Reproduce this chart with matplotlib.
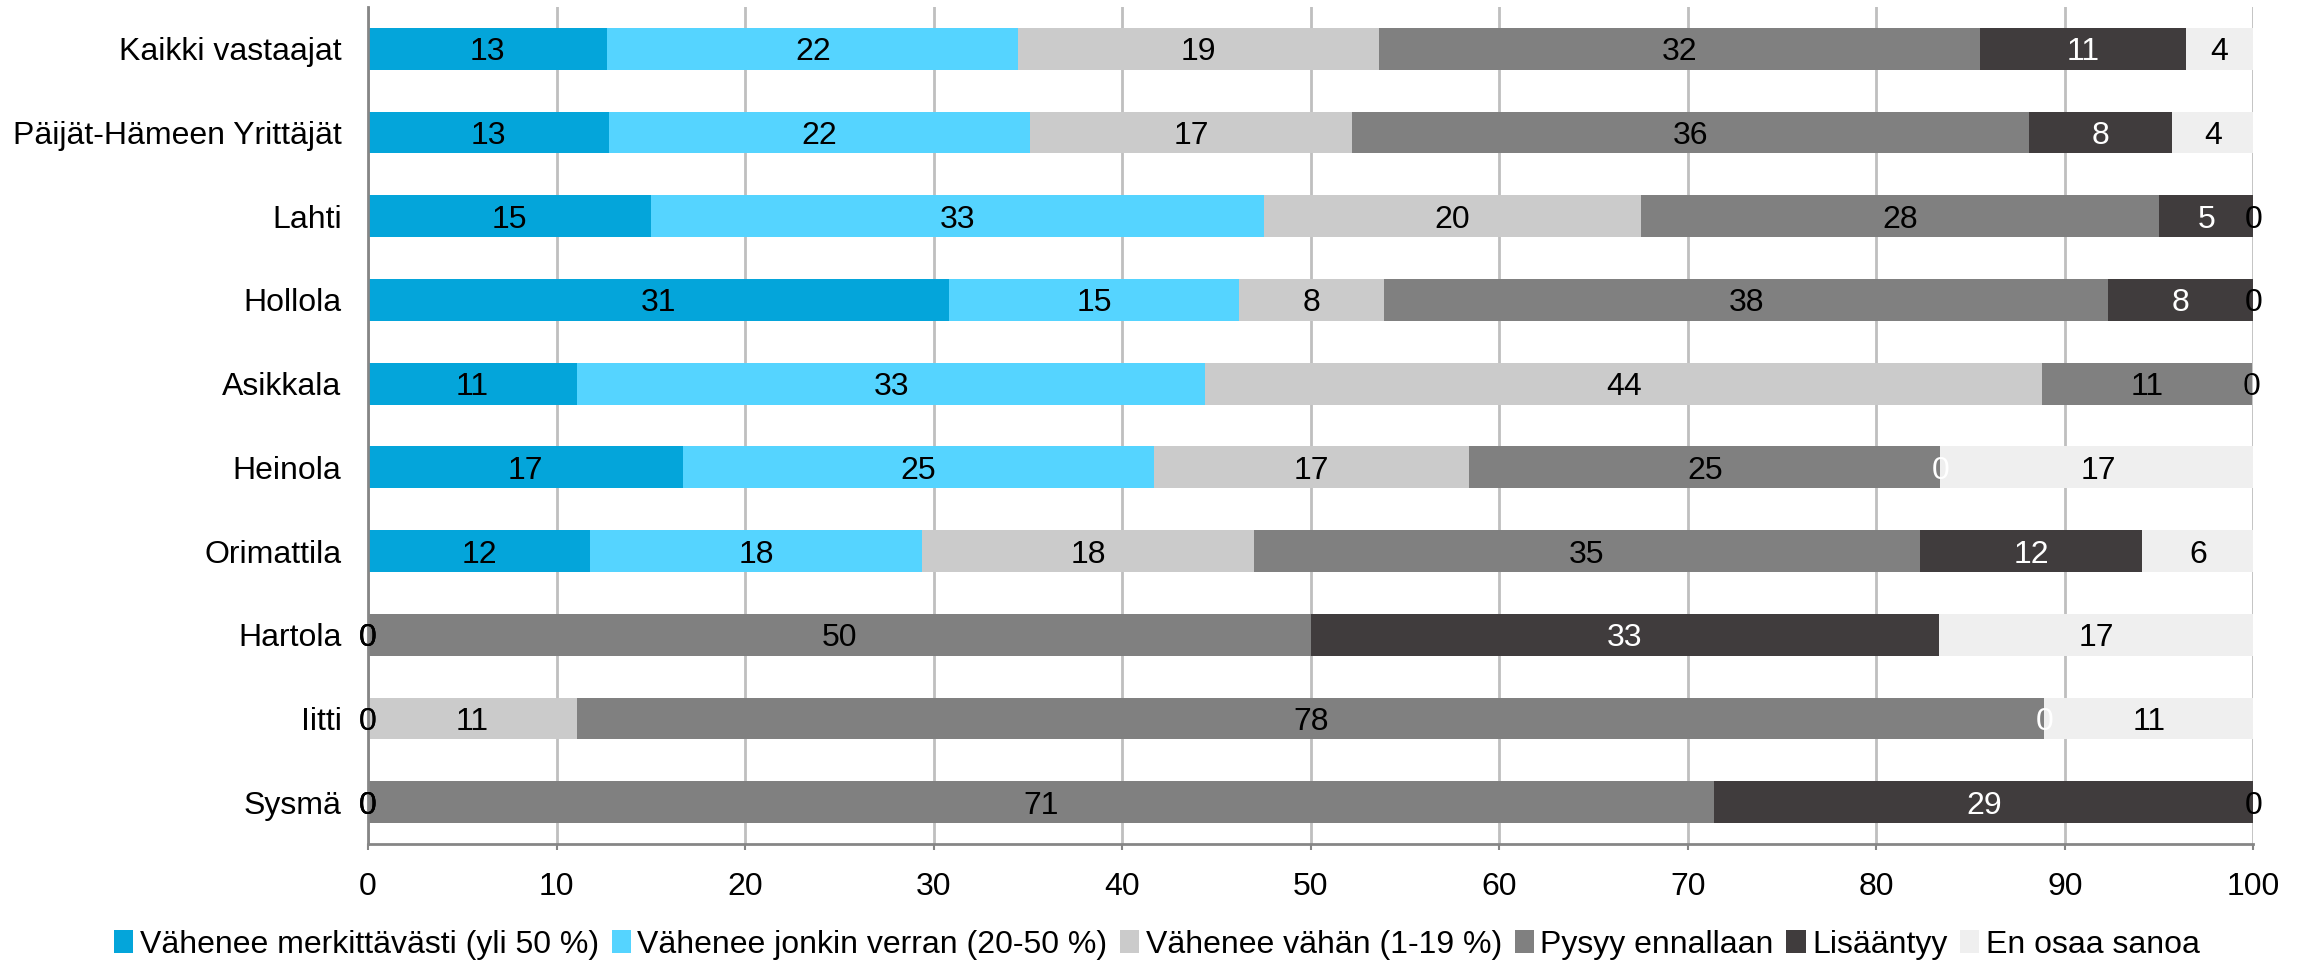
import matplotlib.pyplot as plt
import numpy as np

plt.rcParams['font.family'] = ['Liberation Sans', 'DejaVu Sans']

categories = ['Kaikki vastaajat', 'Päijät-Hämeen Yrittäjät', 'Lahti', 'Hollola',
              'Asikkala', 'Heinola', 'Orimattila', 'Hartola', 'Iitti', 'Sysmä']

series_names = ['Vähenee merkittävästi (yli 50 %)', 'Vähenee jonkin verran (20-50 %)',
                'Vähenee vähän (1-19 %)', 'Pysyy ennallaan', 'Lisääntyy', 'En osaa sanoa']

vahenee_paljon = [12.7, 12.8, 15.0, 30.8, 11.1, 16.7, 11.8, 0.0, 0.0, 0.0]
vahenee_jonkin = [21.8, 22.3, 32.5, 15.4, 33.3, 25.0, 17.6, 0.0, 0.0, 0.0]
vahenee_vahan = [19.1, 17.1, 20.0, 7.7, 44.4, 16.7, 17.6, 0.0, 11.1, 0.0]
pysyy = [31.9, 35.9, 27.5, 38.4, 11.1, 25.0, 35.3, 50.0, 77.8, 71.4]
lisaantyy = [10.9, 7.6, 5.0, 7.7, 0.0, 0.0, 11.8, 33.3, 0.0, 28.6]
en_osaa = [3.6, 4.3, 0.0, 0.0, 0.0, 16.7, 5.9, 16.7, 11.1, 0.0]

colors = ['#04A5DA', '#55D4FF', '#CBCBCB', '#808080', '#403C3D', '#EFEFEF']
text_colors = ['black', 'black', 'black', 'black', 'white', 'black']

data = [vahenee_paljon, vahenee_jonkin, vahenee_vahan, pysyy, lisaantyy, en_osaa]

fig = plt.figure(figsize=(23.07, 9.66), dpi=100)
ax = fig.add_axes([0.1595, 0.1263, 0.9768 - 0.1595, 0.9928 - 0.1263])

y = np.arange(len(categories))
left = np.zeros(len(categories))
fs = 23
for vals, name, c, tc in zip(data, series_names, colors, text_colors):
    vals = np.array(vals)
    ax.barh(y, vals, left=left, height=0.5, color=c, label=name, zorder=2)
    for yi, l, v in zip(y, left, vals):
        # Excel style rounding (half up)
        ax.text(l + v / 2, yi, str(int(np.floor(v + 0.5))), ha='center',
                va='center_baseline', color=tc, fontsize=fs, zorder=3)
    left = left + vals

ax.set_xlim(0, 100)
ax.set_ylim(len(categories) - 0.5, -0.5)
ax.set_yticks(y)
ax.set_yticklabels(categories, fontsize=fs)
ax.set_xticks(np.arange(0, 101, 10))
ax.tick_params(axis='x', labelsize=fs, length=4, width=1.5, color='#868686', pad=16)
ax.tick_params(axis='y', length=0, pad=19)
ax.xaxis.grid(True, color='#BFBFBF', linewidth=2, zorder=0)
ax.set_axisbelow(True)
for s in ['top', 'right']:
    ax.spines[s].set_visible(False)
ax.spines['left'].set_color('#868686')
ax.spines['left'].set_linewidth(2)
ax.spines['bottom'].set_color('#868686')
ax.spines['bottom'].set_linewidth(2)

fig.legend(loc='center', bbox_to_anchor=(0.5015, 0.022), ncol=6, frameon=False,
           fontsize=fs, handlelength=0.6, handleheight=0.7, handletextpad=0.2,
           columnspacing=0.4, borderaxespad=0)

fig.savefig('out.png', dpi=100)
